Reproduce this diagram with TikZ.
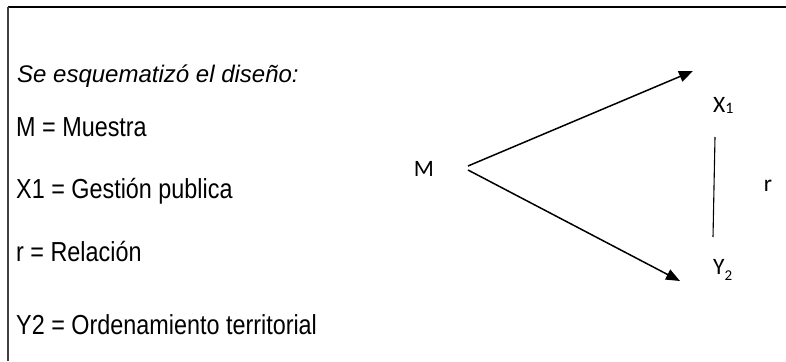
\documentclass[tikz,border=0pt]{standalone}
\usepackage{fontspec}
\setmainfont{Liberation Sans}
\newfontfamily\narrowfont[FakeStretch=0.85]{Liberation Sans}
\newfontfamily\calib{Carlito}
\usetikzlibrary{arrows.meta}
\begin{document}
\begin{tikzpicture}[x=1pt,y=-1pt,
  lefttext/.style={anchor=base west,inner sep=0pt,font=\narrowfont\fontsize{27.5}{30}\selectfont},
  titletext/.style={anchor=base west,inner sep=0pt,font=\itshape\fontsize{24}{26}\selectfont},
  rightlab/.style={inner sep=0pt,font=\calib\fontsize{23.5}{26}\selectfont},
  arr/.style={line width=1.5pt,-{Triangle[length=14pt,width=11pt]}},
  border/.style={line width=1.8pt}]
\useasboundingbox (0,0) rectangle (786,361);
\draw[border,black] (8,7) -- (786,7);
\draw[border,black!75] (8,7) -- (8,361);
\node[titletext] (title) at (17,82) {Se esquematizó el diseño:};
\node[lefttext] (l1) at (16,136) {M = Muestra};
\node[lefttext] (l2) at (16,198) {X1 = Gestión publica};
\node[lefttext] (l3) at (16,261) {r = Relación};
\node[lefttext] (l4) at (16,334) {Y2 = Ordenamiento territorial};
\node[rightlab,anchor=base] (M) at (424,176) {M};
\node[rightlab,anchor=base west] (X) at (713,112) {X\raisebox{-1pt}{\fontsize{16}{18}\selectfont 1}};
\node[rightlab,anchor=base west] (Y) at (713,274) {Y\raisebox{-6pt}{\fontsize{15}{17}\selectfont 2}};
\node[rightlab,anchor=base] (r) at (768,191) {r};
\coordinate (ms1) at (468,166);
\coordinate (ms2) at (468,170);
\coordinate (xt) at (693,71);
\coordinate (yt) at (680,281);
\coordinate (rt) at (715,137);
\coordinate (rb) at (713,237);
\draw[arr] (ms1) -- (xt);
\draw[arr] (ms2) -- (yt);
\draw[line width=1.1pt] (rt) -- (rb);
\end{tikzpicture}
\end{document}
